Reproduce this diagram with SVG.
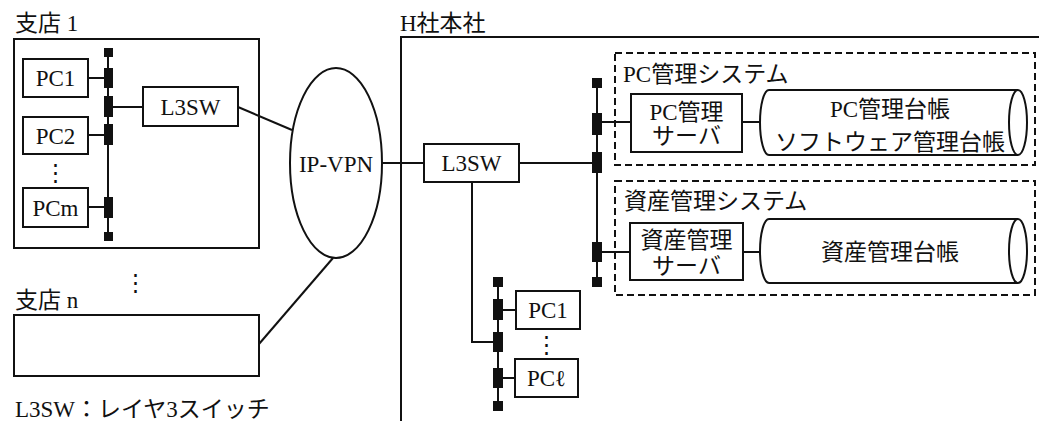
<svg xmlns="http://www.w3.org/2000/svg" width="1039" height="421" viewBox="0 0 1039 421">
<style>
text{font-family:"Liberation Serif","Noto Sans CJK JP",serif;font-size:23px;fill:#111}
.c{text-anchor:middle}
.b{fill:#fff;stroke:#111;stroke-width:2}
.ln{fill:none;stroke:#111;stroke-width:2}
.d{fill:none;stroke:#111;stroke-width:2;stroke-dasharray:7 4}
.p{fill:#111}
</style>
<rect width="1039" height="421" fill="#fff"/>

<g id="connectors">
<line class="ln" x1="238" y1="107" x2="292" y2="130"/>
<line class="ln" x1="259" y1="344" x2="333" y2="258"/>
<line class="ln" x1="382" y1="163" x2="424" y2="163"/>
<line class="ln" x1="519" y1="163" x2="597" y2="163"/>
<polyline class="ln" points="472,182 472,342 498,342"/>
<line class="ln" x1="597" y1="122" x2="631" y2="122"/>
<line class="ln" x1="742" y1="122" x2="761" y2="122"/>
<line class="ln" x1="597" y1="252" x2="630" y2="252"/>
<line class="ln" x1="743" y1="252" x2="761" y2="252"/>
<line class="ln" x1="498" y1="310" x2="516" y2="310"/>
<line class="ln" x1="498" y1="378" x2="515" y2="378"/>
</g>

<g id="branch1">
<text x="15" y="31">支店 1</text>
<rect class="ln" x="14" y="39" width="245" height="209"/>
<line class="ln" x1="108" y1="48" x2="108" y2="241"/>
<rect class="p" x="104" y="48" width="9" height="9"/>
<rect class="p" x="104" y="68" width="9" height="20"/>
<rect class="p" x="104" y="96" width="9" height="21"/>
<rect class="p" x="104" y="124" width="9" height="21"/>
<rect class="p" x="104" y="197" width="9" height="21"/>
<rect class="p" x="104" y="232" width="9" height="9"/>
<line class="ln" x1="88" y1="78" x2="104" y2="78"/>
<line class="ln" x1="88" y1="135" x2="104" y2="135"/>
<line class="ln" x1="88" y1="207" x2="104" y2="207"/>
<line class="ln" x1="113" y1="107" x2="143" y2="107"/>
<g id="b1-pc1"><rect class="b" x="23" y="59" width="65" height="38"/><text class="c" x="55.5" y="86">PC1</text></g>
<g id="b1-pc2"><rect class="b" x="23" y="117" width="65" height="37"/><text class="c" x="55.5" y="144">PC2</text></g>
<text class="c" x="55.5" y="180">⋮</text>
<g id="b1-pcm"><rect class="b" x="23" y="188" width="65" height="39"/><text class="c" x="55.5" y="216">PCm</text></g>
<g id="b1-l3sw"><rect class="b" x="143" y="87" width="95" height="39"/><text class="c" x="190.5" y="115">L3SW</text></g>
</g>

<g id="ipvpn">
<ellipse class="b" cx="336" cy="163" rx="46" ry="95"/>
<text class="c" x="336" y="172">IP-VPN</text>
</g>

<g id="branchn">
<text class="c" x="135" y="290">⋮</text>
<text x="15" y="308">支店 n</text>
<rect class="ln" x="14" y="315" width="245" height="61"/>
</g>

<g id="legend">
<text x="15" y="417">L3SW：レイヤ3スイッチ</text>
</g>

<g id="hq">
<text x="400" y="31">H社本社</text>
<polyline class="ln" points="401,425 401,37 1045,37"/>
<g id="hq-l3sw"><rect class="b" x="424" y="144" width="95" height="38"/><text class="c" x="471.5" y="171">L3SW</text></g>
<line class="ln" x1="597" y1="78" x2="597" y2="287"/>
<rect class="p" x="592" y="78" width="10" height="10"/>
<rect class="p" x="592" y="113" width="10" height="22"/>
<rect class="p" x="592" y="152" width="10" height="21"/>
<rect class="p" x="592" y="242" width="10" height="20"/>
<rect class="p" x="592" y="277" width="10" height="10"/>
<line class="ln" x1="498" y1="277" x2="498" y2="411"/>
<rect class="p" x="493" y="277" width="10" height="10"/>
<rect class="p" x="493" y="299" width="10" height="21"/>
<rect class="p" x="493" y="332" width="10" height="20"/>
<rect class="p" x="493" y="368" width="10" height="20"/>
<rect class="p" x="493" y="401" width="10" height="10"/>
<g id="hq-pc1"><rect class="b" x="516" y="291" width="64" height="38"/><text class="c" x="548" y="318">PC1</text></g>
<text class="c" x="546" y="352">⋮</text>
<g id="hq-pcl"><rect class="b" x="515" y="359" width="63" height="38"/><text class="c" x="546.5" y="386">PCℓ</text></g>
</g>

<g id="pc-system">
<rect class="d" x="615" y="53" width="420" height="112"/>
<text x="623" y="82">PC管理システム</text>
<g id="pc-server"><rect class="b" x="631" y="94" width="111" height="58"/><text class="c" x="686.5" y="120">PC管理</text><text class="c" x="686.5" y="144">サーバ</text></g>
<g id="pc-db">
<path class="b" d="M1018,90 L769,90 A9,32.5 0 0 0 769,155 L1018,155"/>
<ellipse class="b" cx="1018" cy="122.5" rx="9" ry="32.5"/>
<text class="c" x="890" y="117">PC管理台帳</text>
<text class="c" x="890" y="150">ソフトウェア管理台帳</text>
</g>
</g>

<g id="asset-system">
<rect class="d" x="615" y="181" width="420" height="114"/>
<text x="624" y="209">資産管理システム</text>
<g id="asset-server"><rect class="b" x="630" y="223" width="113" height="57"/><text class="c" x="686.5" y="248">資産管理</text><text class="c" x="686.5" y="274">サーバ</text></g>
<g id="asset-db">
<path class="b" d="M1018,219 L769,219 A9,32 0 0 0 769,283 L1018,283"/>
<ellipse class="b" cx="1018" cy="251" rx="9" ry="32"/>
<text class="c" x="890" y="260">資産管理台帳</text>
</g>
</g>
</svg>
